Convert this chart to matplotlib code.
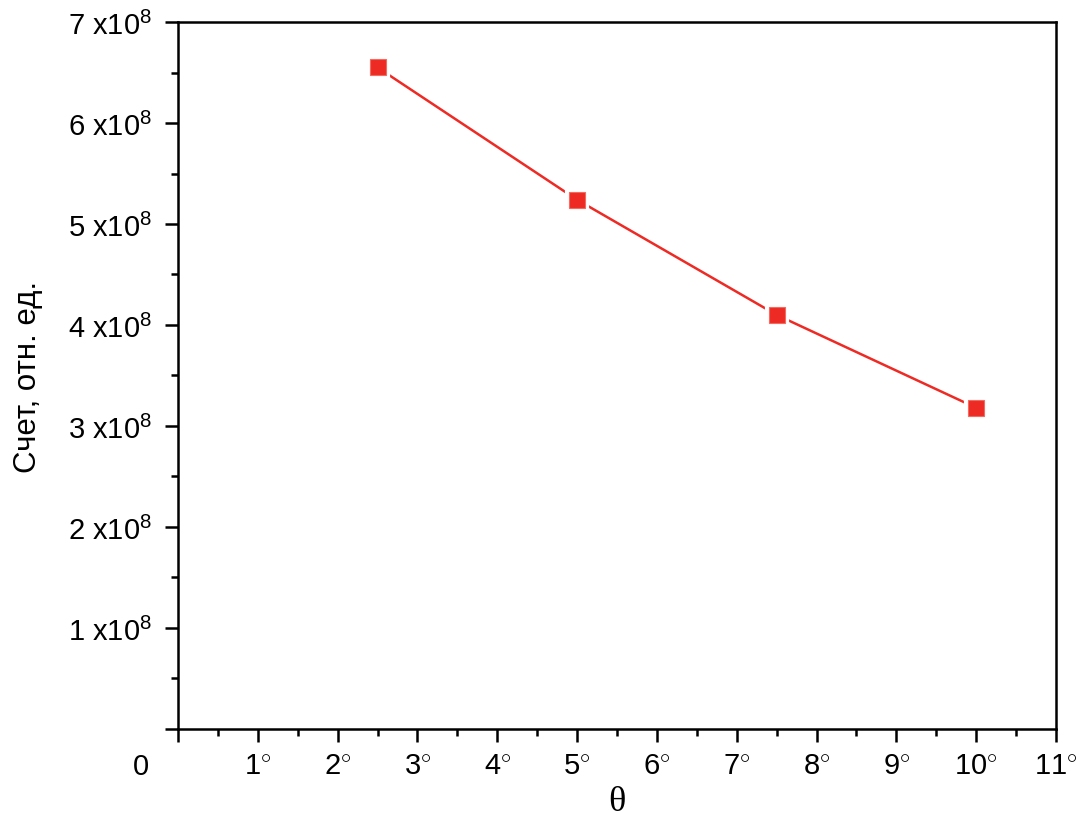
import matplotlib
matplotlib.use("Agg")
import matplotlib.pyplot as plt
from matplotlib.ticker import MultipleLocator, FixedLocator, FixedFormatter
from matplotlib.transforms import ScaledTranslation

theta = [2.5, 5.0, 7.5, 10.0]
counts = [6.55e8, 5.24e8, 4.10e8, 3.18e8]
xticks = list(range(0, 12))
xlabels = ["0"] + [rf"${i}^{{\circ}}$" for i in range(1, 12)]
yticks = [i * 1e8 for i in range(0, 8)]
ylabels = [""] + [rf"${i}\ \mathrm{{x10}}^{{8}}$" for i in range(1, 8)]

plt.rcParams["font.family"] = ["Liberation Sans", "DejaVu Sans"]
plt.rcParams["mathtext.fontset"] = "custom"
plt.rcParams["mathtext.rm"] = "Liberation Sans"
plt.rcParams["mathtext.it"] = "Liberation Sans"
plt.rcParams["mathtext.bf"] = "Liberation Sans:bold"

fig = plt.figure(figsize=(10.9, 8.28), dpi=100)
ax = fig.add_axes([0.1633, 0.1184, 0.8055, 0.8538])

red = "#EE2A24"
ax.plot(theta, counts, color=red, lw=1.8, zorder=2)
ax.plot(theta, counts, ls="none", marker="s", ms=15, mfc="white", mec="white", mew=3, zorder=3)
ax.plot(theta, counts, ls="none", marker="s", ms=12, mfc=red, mec="#F46A5E", mew=0.8, zorder=4)

ax.set_xlim(0, 11)
ax.set_ylim(0, 7e8)

ax.xaxis.set_major_locator(FixedLocator(xticks))
ax.xaxis.set_major_formatter(FixedFormatter(xlabels))
ax.xaxis.set_minor_locator(MultipleLocator(0.5))
ax.yaxis.set_major_locator(FixedLocator(yticks))
ax.yaxis.set_major_formatter(FixedFormatter(ylabels))
ax.yaxis.set_minor_locator(MultipleLocator(0.5e8))

for s in ax.spines.values():
    s.set_linewidth(1.8)

ax.tick_params(which="major", direction="out", length=9.5, width=1.8, labelsize=21, top=False, right=False)
ax.tick_params(which="minor", direction="out", length=5, width=1.8, top=False, right=False)
ax.tick_params(axis="x", which="major", pad=7)
ax.tick_params(axis="y", which="major", pad=9)

fig.canvas.draw()
lab0 = ax.get_xticklabels()[0]
lab0.set_transform(lab0.get_transform() + ScaledTranslation(-0.37, 0, fig.dpi_scale_trans))

ax.set_ylabel("Счет, отн. ед.", fontsize=22.5, labelpad=18)
ax.set_xlabel("θ", fontsize=26, family=["Liberation Serif", "DejaVu Serif"], labelpad=4)

fig.savefig("out.png", dpi=100)
